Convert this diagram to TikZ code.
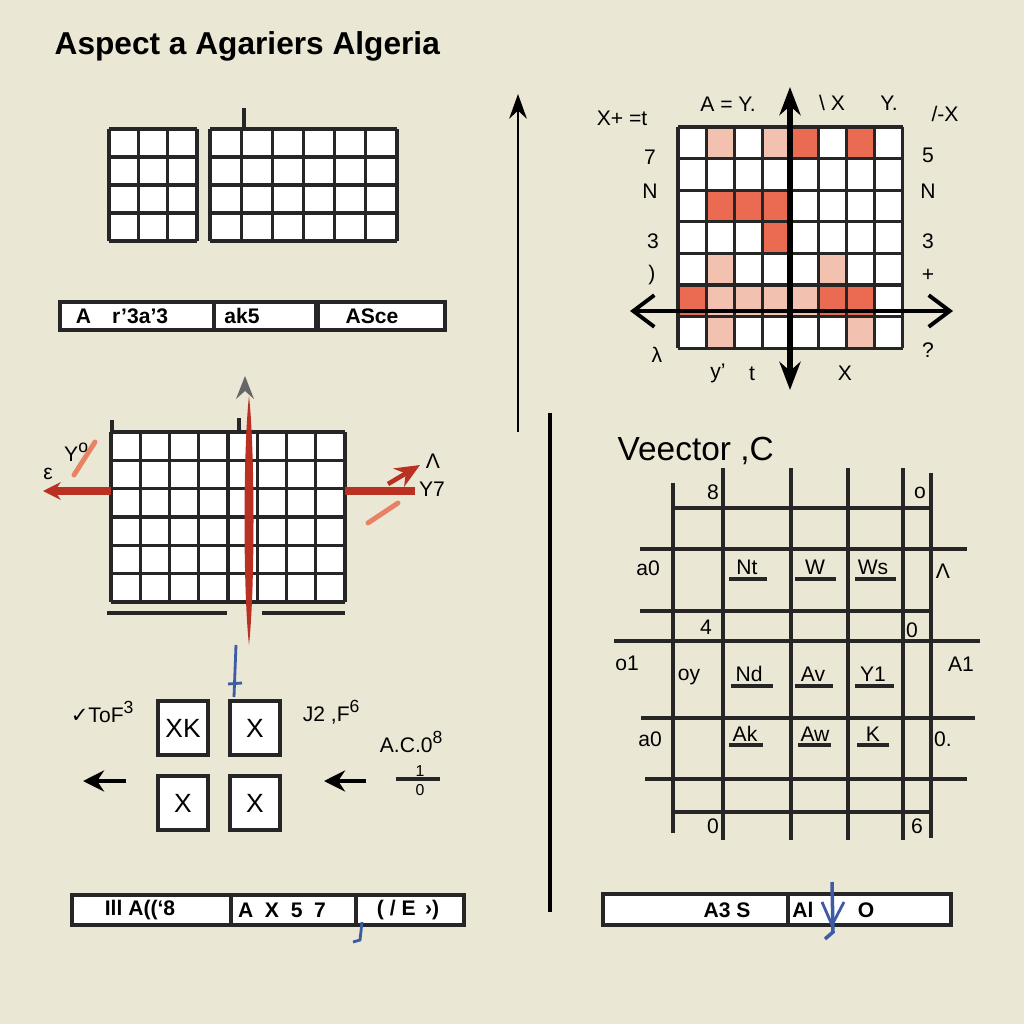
\documentclass[tikz,border=0pt]{standalone}
\usepackage{fontspec}
\setmainfont{Liberation Sans}
\newfontfamily\symfont{DejaVu Sans}
\usetikzlibrary{arrows.meta}
\definecolor{paper}{RGB}{234,231,213}
\definecolor{cellred}{RGB}{234,106,82}
\definecolor{cellpink}{RGB}{243,193,176}
\definecolor{axisred}{RGB}{186,48,34}
\definecolor{streak}{RGB}{232,130,100}
\definecolor{inkblue}{RGB}{62,92,165}
\begin{document}
\begin{tikzpicture}[x=0.01cm, y=-0.01cm,
    gridline/.style={line width=0.9pt, black!85},
    rule/.style={line width=1pt, black!85},
    lbl/.style={font=\fontsize{6}{6.5}\selectfont, inner sep=0pt},
    barlbl/.style={font=\bfseries\fontsize{6}{6.5}\selectfont, inner sep=0pt},
    tiny/.style={font=\fontsize{4.5}{5}\selectfont, inner sep=0pt},
    barbox/.style={draw=black!85, line width=1pt, fill=white},
    xbox/.style={draw=black!85, line width=1pt, fill=white, inner sep=0pt, minimum width=0.5cm, minimum height=0.54cm, font=\fontsize{7.5}{8}\selectfont}]
    % Paper
    \fill[paper] (0,0) rectangle (1024,1024);
    \useasboundingbox (0,0) rectangle (1024,1024);
    % Title
    \node[anchor=west, font=\bfseries\fontsize{9}{10}\selectfont, inner sep=0pt] (title) at (54,46) {Aspect a Agariers Algeria};
    % Top left grids
    \fill[white] (109,129) rectangle (197,241);
    \foreach \i in {0,...,3} \draw[gridline] ({109+\i*29.33},129) -- ({109+\i*29.33},241);
    \foreach \j in {0,...,4} \draw[gridline] (109,{129+\j*28}) -- (197,{129+\j*28});
    \fill[white] (210,129) rectangle (397,241);
    \foreach \i in {0,...,6} \draw[gridline] ({210+\i*31.17},129) -- ({210+\i*31.17},241);
    \foreach \j in {0,...,4} \draw[gridline] (210,{129+\j*28}) -- (397,{129+\j*28});
    \draw[gridline] (244,108) -- (244,129);
    % Label bar
    \draw[barbox] (60,302) rectangle (214,330);
    \draw[barbox] (214,302) rectangle (316,330);
    \draw[barbox] (318,302) rectangle (445,330);
    \node[barlbl] (bara) at (122,316) {A\hspace{6pt}r'3a'3};
    \node[barlbl] (barb) at (242,316) {ak5};
    \node[barlbl] (barc) at (372,316) {ASce};
    % Long arrow and divider
    \coordinate (upfoot) at (518,432);
    \coordinate (uptip) at (518,94);
    \draw[line width=0.8pt, -{Stealth[length=7pt, width=5pt]}] (upfoot) -- (uptip);
    \coordinate (divtop) at (550,413);
    \coordinate (divbot) at (550,912);
    \draw[line width=0.9pt] (divtop) -- (divbot);
    % Top right grid with shaded cells
    \foreach \r/\row in {0/{white,cellpink,white,cellpink,cellred,white,cellred,white},
                         1/{white,white,white,white,white,white,white,white},
                         2/{white,cellred,cellred,cellred,white,white,white,white},
                         3/{white,white,white,cellred,white,white,white,white},
                         4/{white,cellpink,white,white,white,cellpink,white,white},
                         5/{cellred,cellpink,cellpink,cellpink,cellpink,cellred,cellred,white},
                         6/{white,cellpink,white,white,white,white,cellpink,white}}
      \foreach \c [count=\k from 0] in \row
        \fill[\c] ({678+\k*28.1},{127+\r*31.6}) rectangle ({678+(\k+1)*28.1},{127+(\r+1)*31.6});
    \foreach \i in {0,...,8} \draw[gridline] ({678+\i*28.1},127) -- ({678+\i*28.1},348);
    \foreach \j in {0,...,7} \draw[gridline] (678,{127+\j*31.6}) -- (903,{127+\j*31.6});
    \coordinate (ybot) at (790,390);
    \coordinate (ytop) at (790,87);
    \coordinate (xleft) at (630,311);
    \coordinate (xright) at (953,311);
    \draw[line width=1.6pt, {Stealth[length=8pt, width=6pt]}-{Stealth[length=8pt, width=6pt]}] (ybot) -- (ytop);
    \draw[line width=1.1pt, {Straight Barb[length=6pt, width=9pt]}-{Straight Barb[length=6pt, width=9pt]}] (xleft) -- (xright);
    \node[lbl] (tra) at (622,118) {X+ =t};
    \node[lbl] (trb) at (728,104) {A = Y.};
    \node[lbl] (trc) at (832,103) {\textbackslash\ X};
    \node[lbl] (trd) at (889,103) {Y.};
    \node[lbl] (tre) at (945,114) {/-X};
    \node[lbl] (tla) at (650,157) {7};
    \node[lbl] (tlb) at (650,191) {N};
    \node[lbl] (tlc) at (653,241) {3};
    \node[lbl] (tld) at (652,275) {)};
    \node[lbl] (tle) at (657,355) {λ};
    \node[lbl] (tma) at (928,155) {5};
    \node[lbl] (tmb) at (928,191) {N};
    \node[lbl] (tmc) at (928,241) {3};
    \node[lbl] (tmd) at (928,275) {+};
    \node[lbl] (tme) at (928,350) {?};
    \node[lbl] (tba) at (718,373) {y'};
    \node[lbl] (tbb) at (752,374) {t};
    \node[lbl] (tbc) at (845,373) {X};
    % Middle left grid with red axes
    \fill[white] (111,432) rectangle (345,602);
    \foreach \i in {0,...,8} \draw[gridline] ({111+\i*29.25},432) -- ({111+\i*29.25},602);
    \foreach \j in {0,...,6} \draw[gridline] (111,{432+\j*28.33}) -- (345,{432+\j*28.33});
    \draw[gridline] (112,420) -- (112,432);
    \draw[gridline] (239,418) -- (239,432);
    \draw[rule] (107,613) -- (227,613);
    \draw[rule] (262,613) -- (345,613);
    \fill[axisred] (249,396) .. controls (255,450) and (255,590) .. (249,645) .. controls (243,590) and (243,450) .. (249,396);
    \fill[gray!80!black] (245,376) -- (236,399) -- (245,391) -- (254,399) -- cycle;
    \coordinate (hlend) at (43,491);
    \coordinate (hlfoot) at (111,491);
    \coordinate (hrfoot) at (345,491);
    \coordinate (hrend) at (415,491);
    \draw[axisred, line width=2pt, -{Stealth[length=5pt, width=5pt]}] (hlfoot) -- (hlend);
    \draw[axisred, line width=2pt] (hrfoot) -- (hrend);
    \coordinate (rafoot) at (388,484);
    \coordinate (ratip) at (420,465);
    \draw[axisred, line width=1.3pt, -{Stealth[length=7pt, width=6pt]}] (rafoot) -- (ratip);
    \draw[streak, line width=1.4pt, line cap=round] (368,523) -- (398,503);
    \draw[streak, line width=1.4pt, line cap=round] (74,475) -- (95,442);
    \node[lbl] (mla) at (77,452) {Y\textsuperscript{o}};
    \node[lbl] (mlb) at (48,474) {ε};
    \node[lbl] (mra) at (433,461) {Λ};
    \node[lbl] (mrb) at (432,489) {Y7};
    \draw[inkblue, line width=0.8pt] (236,645) -- (234,697);
    \draw[inkblue, line width=0.8pt] (228,684) -- (242,683);
    % X boxes
    \node[xbox] (xa) at (183,728) {XK};
    \node[xbox] (xb) at (255,728) {X};
    \node[xbox] (xc) at (183,803) {X};
    \node[xbox] (xd) at (255,803) {X};
    \coordinate (lafoot) at (126,781);
    \coordinate (latip) at (83,781);
    \coordinate (rbfoot) at (366,781);
    \coordinate (rbtip) at (324,781);
    \draw[line width=1.2pt, -{Stealth[length=6pt, width=6pt]}] (lafoot) -- (latip);
    \draw[line width=1.2pt, -{Stealth[length=6pt, width=6pt]}] (rbfoot) -- (rbtip);
    \node[lbl] (xla) at (103,712) {{\symfont ✓}ToF\textsuperscript{3}};
    \node[lbl] (xlb) at (332,712) {J2 ,F\textsuperscript{6}};
    \node[lbl] (xlc) at (412,742) {A.C.0\textsuperscript{8}};
    \draw[rule] (396,779) -- (440,779);
    \node[tiny] (xld) at (420,771) {1};
    \node[tiny] (xle) at (420,790) {0};
    % Bottom left bar
    \draw[barbox] (72,895) rectangle (464,925);
    \draw[rule] (231,895) -- (231,925);
    \draw[rule] (356,895) -- (356,925);
    \node[barlbl] (bla) at (140,910) {Ill A((‘8};
    \node[barlbl] (blb) at (282,910) {A\; X\; 5\; 7};
    \node[barlbl] (blc) at (408,910) {( / E \,›)};
    \draw[inkblue, line width=0.8pt] (362,922) -- (360,940) -- (353,942);
    % Right grid
    \node[anchor=west, font=\fontsize{9.5}{10}\selectfont, inner sep=0pt] (vtitle) at (617,451) {Veector ,C};
    \foreach \x/\a/\b in {673/483/833, 723/468/840, 791/468/840, 848/468/840, 903/468/840, 931/473/838}
      \draw[rule] (\x,\a) -- (\x,\b);
    \foreach \y/\a/\b in {508/673/931, 549/640/967, 611/640/931, 641/614/980, 718/641/975, 779/645/967, 812/673/931}
      \draw[rule] (\a,\y) -- (\b,\y);
    \node[lbl] (ga) at (713,492) {8};
    \node[lbl] (gb) at (920,493) {o};
    \node[lbl] (gc) at (648,568) {a0};
    \node[lbl] (gd) at (943,571) {Λ};
    \node[lbl] (ge) at (706,627) {4};
    \node[lbl] (gf) at (912,630) {0};
    \node[lbl] (gg) at (627,663) {o1};
    \node[lbl] (gh) at (689,677) {oy};
    \node[lbl] (gi) at (961,664) {A1};
    \node[lbl] (gj) at (650,739) {a0};
    \node[lbl] (gk) at (943,739) {0.};
    \node[lbl] (gl) at (713,826) {0};
    \node[lbl] (gm) at (917,826) {6};
    \foreach \x/\t/\a/\b [count=\n] in {747/Nt/729/767, 815/W/795/836, 873/Ws/855/896}
      {\node[lbl] (ua\n) at (\x,567) {\t}; \draw[rule] (\a,579) -- (\b,579);}
    \foreach \x/\t/\a/\b [count=\n] in {749/Nd/731/773, 813/Av/795/833, 873/Y1/855/894}
      {\node[lbl] (ub\n) at (\x,674) {\t}; \draw[rule] (\a,686) -- (\b,686);}
    \foreach \x/\t/\a/\b [count=\n] in {745/Ak/729/763, 815/Aw/798/831, 873/K/857/889}
      {\node[lbl] (uc\n) at (\x,734) {\t}; \draw[rule] (\a,745) -- (\b,745);}
    % Bottom right bar
    \draw[barbox] (603,894) rectangle (951,925);
    \draw[rule] (788,894) -- (788,925);
    \node[barlbl] (bra) at (727,910) {A3 S};
    \node[barlbl] (brb) at (803,910) {Al};
    \node[barlbl] (brc) at (866,910) {O};
    \draw[inkblue, line width=1pt] (832,882) -- (833,932) -- (825,939);
    \draw[inkblue, line width=0.8pt] (822,902) -- (832,925) -- (844,902);
\end{tikzpicture}
\end{document}
